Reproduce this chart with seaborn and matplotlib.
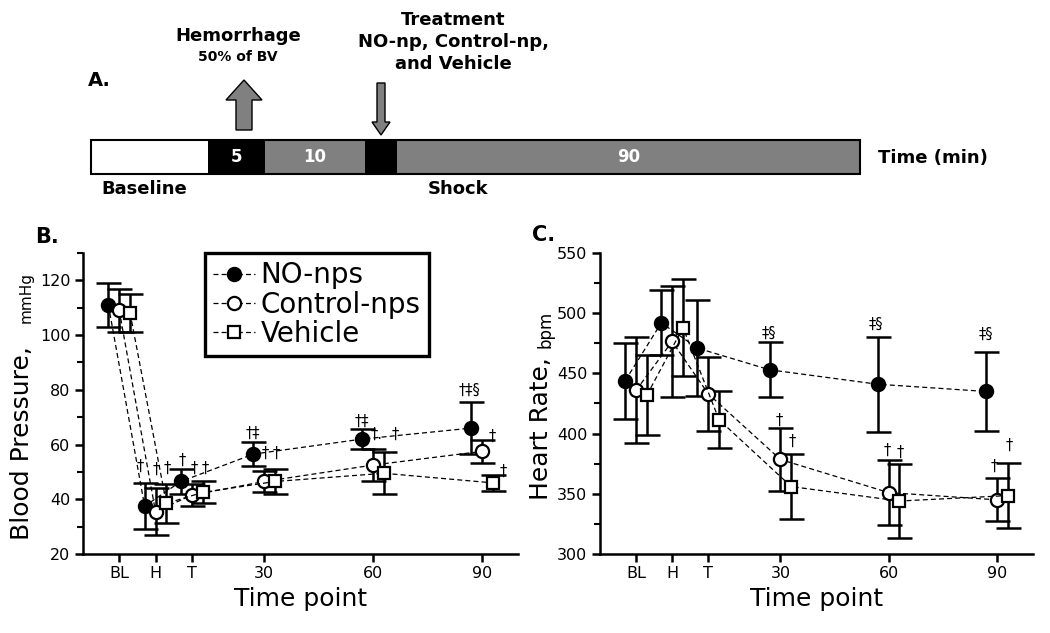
import matplotlib
matplotlib.use('Agg')
import matplotlib.pyplot as plt
import seaborn as sns
from matplotlib.patches import Rectangle, FancyArrow
from matplotlib.ticker import MultipleLocator

sns.set_style('ticks', {'axes.edgecolor': 'black', 'xtick.color': 'black',
                        'ytick.color': 'black', 'text.color': 'black',
                        'axes.labelcolor': 'black'})
plt.rcParams['font.family'] = ['DejaVu Sans']

# time points (minutes, BL/H/T drawn at -10, 0, 10)
time_labels = ['BL', 'H', 'T', '30', '60', '90']
time_min = [-10, 0, 10, 30, 60, 90]
groups = ['NO-nps', 'Control-nps', 'Vehicle']

# B. blood pressure (mmHg): mean and SD
bp_no = [111, 37.5, 46.5, 56.5, 62, 66]
bp_no_sd = [8, 8.5, 4.5, 4.5, 3.75, 9.5]
bp_ctrl = [109, 35.5, 41.5, 46.5, 52.5, 57.5]
bp_ctrl_sd = [8, 8.5, 4, 4, 6, 4.25]
bp_veh = [108, 38.5, 42.5, 46.5, 49.5, 46]
bp_veh_sd = [7, 7, 4, 4.5, 7.75, 3]

# C. heart rate (bpm): mean and SD
hr_no = [444, 492, 471, 453, 441, 435]
hr_no_sd = [31.5, 27, 40, 22.7, 39.5, 33]
hr_ctrl = [436, 476.5, 433, 378.5, 351, 345]
hr_ctrl_sd = [44, 46.5, 31, 26.3, 27, 18]
hr_veh = [432, 488, 411.5, 356, 344, 348.5]
hr_veh_sd = [33, 40, 23.8, 27, 31, 27]

# significance marks
bp_sig_x = [-4.3, 0.2, 3.2, 7.3, 10.7, 13.8, 27, 30.2, 33.2, 57, 61, 66, 86.5, 92.9, 96]
bp_sig_y = [52, 50.8, 51.4, 54.4, 51.4, 51.4, 64.2, 56.9, 56.9, 68.5, 63.6, 63.6, 79.8, 63.2, 50.1]
bp_sig_txt = ['†', '†', '†', '†', '†', '†', '†‡', '†', '†', '†‡', '†.', '†', '†‡§', '†', '†']
hr_sig_x = [26.7, 29.7, 33.3, 56.5, 59.5, 63.2, 86.9, 89.2, 93.3]
hr_sig_y = [483.3, 411.3, 393.3, 490.8, 386.4, 384.5, 482.5, 373, 390.3]
hr_sig_txt = ['‡§', '†', '†', '‡§', '†', '†', '‡§', '†', '†']

# A. protocol timeline
phase_edges = [91, 208, 265, 365, 397, 860]
phase_fill = ['white', 'black', '#808080', 'black', '#808080']
phase_text = ['', '5', '10', '', '90']

W, H = 1050, 633
fig = plt.figure(figsize=(W / 100, H / 100), dpi=100)

# ---- panel A, drawn in pixel coordinates
axA = fig.add_axes([0, 0, 1, 1])
axA.set_xlim(0, W)
axA.set_ylim(H, 0)
axA.axis('off')
bar_top, bar_h = 140, 34
for x0, x1, fc, t in zip(phase_edges[:-1], phase_edges[1:], phase_fill, phase_text):
    axA.add_patch(Rectangle((x0, bar_top), x1 - x0, bar_h, fc=fc, ec='none'))
    if t:
        axA.text((x0 + x1) / 2, bar_top + bar_h / 2, t, color='white', fontsize=12,
                 fontweight='bold', ha='center', va='center')
axA.add_patch(Rectangle((phase_edges[0], bar_top), phase_edges[-1] - phase_edges[0], bar_h,
                        fc='none', ec='black', lw=1.5))
bold = dict(fontweight='bold', fontsize=13)
axA.text(878, 158, 'Time (min)', ha='left', va='center', **bold)
axA.text(101, 189, 'Baseline', ha='left', va='center', **bold)
axA.text(428, 189, 'Shock', ha='left', va='center', **bold)
axA.text(88, 80, 'A.', ha='left', va='center', fontweight='bold', fontsize=14)
axA.text(238, 36, 'Hemorrhage', ha='center', va='center', **bold)
axA.text(238, 57, '50% of BV', ha='center', va='center', fontweight='bold', fontsize=10)
axA.text(453, 20, 'Treatment', ha='center', va='center', **bold)
axA.text(453, 42, 'NO-np, Control-np,', ha='center', va='center', **bold)
axA.text(453, 64, 'and Vehicle', ha='center', va='center', **bold)
axA.add_patch(FancyArrow(244, 130, 0, -50, width=16, head_width=36, head_length=20,
                         length_includes_head=True, fc='#808080', ec='black', lw=1))
axA.add_patch(FancyArrow(381, 83, 0, 52, width=8, head_width=18, head_length=13,
                         length_includes_head=True, fc='#808080', ec='black', lw=1))


def draw_panel(ax, means, sds, sig_x, sig_y, sig_txt, ylim, major, minor):
    marker_styles = [('o', 'black', 9.5), ('o', 'white', 9.5), ('s', 'white', 8.5)]
    offsets = [-3, 0, 3]
    for name, m, s, off, (mk, fc, ms) in zip(groups, means, sds, offsets, marker_styles):
        xs = [t + off for t in time_min]
        ax.errorbar(xs, m, yerr=s, fmt='none', ecolor='black', elinewidth=1.8,
                    capsize=9, capthick=1.8, zorder=2)
        sns.lineplot(x=xs, y=m, ax=ax, color='black', lw=0.9, linestyle=(0, (4, 2.5)),
                     marker=mk, ms=ms, mfc=fc, mec='black', mew=1.6, label=name, zorder=3)
    for x, y, t in zip(sig_x, sig_y, sig_txt):
        ax.text(x, y, t, ha='center', va='center', fontsize=10.5)
    ax.set_xlim(-20, 100)
    ax.set_ylim(*ylim)
    ax.set_xticks(time_min)
    ax.set_xticklabels(time_labels)
    ax.yaxis.set_major_locator(MultipleLocator(major))
    ax.yaxis.set_minor_locator(MultipleLocator(minor))
    ax.tick_params(axis='both', which='major', direction='out', length=6, width=1.8,
                   labelsize=11.5, pad=3)
    ax.tick_params(axis='y', which='minor', direction='out', length=4, width=1.5)
    for sp in ['left', 'bottom']:
        ax.spines[sp].set_linewidth(1.8)
    sns.despine(ax=ax)
    ax.set_xlabel('Time point', fontsize=18, labelpad=4)
    ax.set_ylabel('')
    if ax.get_legend() is not None:
        ax.get_legend().remove()


axB = fig.add_axes([83 / W, 1 - 554 / H, 435 / W, 301 / H])
draw_panel(axB, [bp_no, bp_ctrl, bp_veh], [bp_no_sd, bp_ctrl_sd, bp_veh_sd],
           bp_sig_x, bp_sig_y, bp_sig_txt, (20, 130), 20, 10)
leg = axB.legend(loc='upper left', bbox_to_anchor=(0.28, 1.0), fontsize=20, frameon=True,
                 fancybox=False, edgecolor='black', framealpha=1, borderpad=0.3,
                 labelspacing=0.05, handlelength=1.5, handletextpad=0.2, borderaxespad=0)
leg.get_frame().set_linewidth(2.4)

axC = fig.add_axes([600 / W, 1 - 554 / H, 433 / W, 301 / H])
draw_panel(axC, [hr_no, hr_ctrl, hr_veh], [hr_no_sd, hr_ctrl_sd, hr_veh_sd],
           hr_sig_x, hr_sig_y, hr_sig_txt, (300, 550), 50, 25)

# y labels with small unit text
fig.text(29 / W, 1 - 540 / H, 'Blood Pressure,', rotation=90, rotation_mode='anchor',
         ha='left', va='baseline', fontsize=18)
fig.text(31 / W, 1 - 323 / H, 'mmHg', rotation=90, rotation_mode='anchor',
         ha='left', va='baseline', fontsize=11)
fig.text(548 / W, 1 - 500 / H, 'Heart Rate,', rotation=90, rotation_mode='anchor',
         ha='left', va='baseline', fontsize=18)
fig.text(551 / W, 1 - 348 / H, 'bpm', rotation=90, rotation_mode='anchor',
         ha='left', va='baseline', fontsize=12)

fig.text(35 / W, 1 - 237 / H, 'B.', ha='left', va='center', fontweight='bold', fontsize=15)
fig.text(532 / W, 1 - 235 / H, 'C.', ha='left', va='center', fontweight='bold', fontsize=15)

fig.savefig('out.png', dpi=100)
